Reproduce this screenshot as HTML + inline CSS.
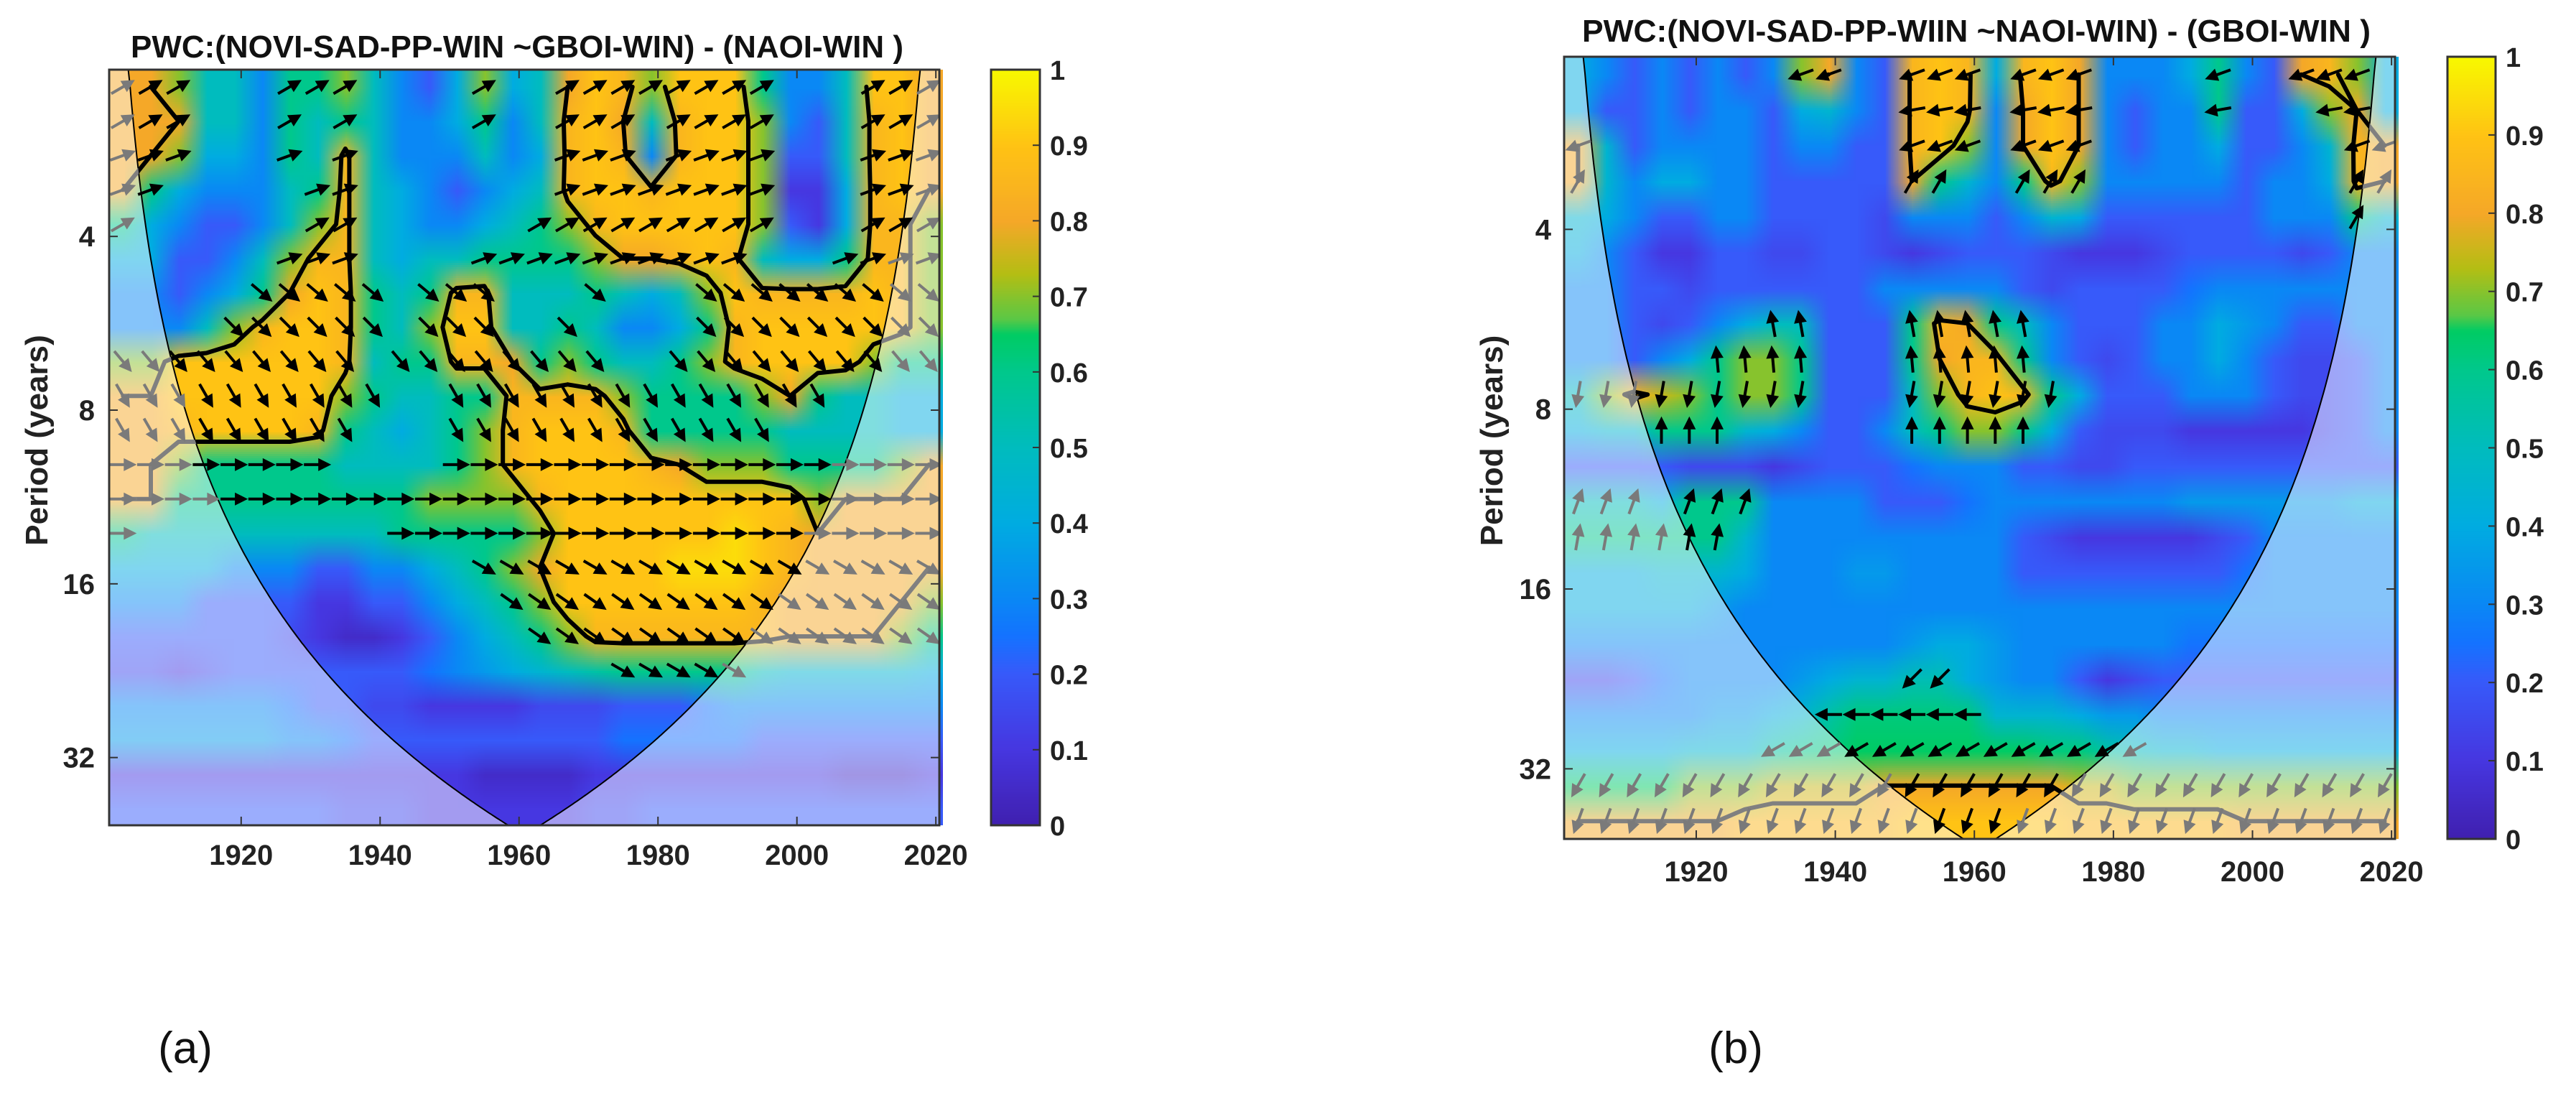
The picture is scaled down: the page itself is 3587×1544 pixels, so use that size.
<!DOCTYPE html>
<html><head><meta charset="utf-8"><title>PWC wavelet coherence</title>
<style>
html,body{margin:0;padding:0;background:#fff;}
#wrap{position:relative;width:3587px;height:1544px;overflow:hidden;background:#fff;}
canvas{position:absolute;}
svg{position:absolute;left:0;top:0;}
text{font-family:"Liberation Sans",Arial,sans-serif;}
</style></head>
<body>
<div id="wrap">
<canvas id="hmA" width="30" height="22"></canvas>
<canvas id="hmB" width="30" height="22"></canvas>
<canvas id="cbA" width="1" height="256"></canvas>
<canvas id="cbB" width="1" height="256"></canvas>
<svg id="svg" width="3587" height="1544" xmlns="http://www.w3.org/2000/svg"></svg>
</div>
<script>
// ---------- data ----------
const yearStart = 1903, yearStep = 4;        // column centres
const periodLog2Min = 1.04, periodLog2Max = 5.39; // axis domain (log2 period)
const xTicks = [1920, 1940, 1960, 1980, 2000, 2020];
const yTicks = [4, 8, 16, 32];
const cbTicks = [0, 0.1, 0.2, 0.3, 0.4, 0.5, 0.6, 0.7, 0.8, 0.9, 1];

const coherenceA = [
[0.8,0.8,0.7,0.5,0.5,0.3,0.6,0.6,0.7,0.5,0.3,0.2,0.4,0.7,0.4,0.5,0.8,0.9,0.85,0.7,0.9,0.9,0.9,0.6,0.3,0.3,0.5,0.9,0.9,0.8],
[0.8,0.8,0.8,0.5,0.5,0.3,0.6,0.5,0.6,0.5,0.3,0.3,0.4,0.6,0.3,0.5,0.85,0.9,0.8,0.5,0.85,0.9,0.9,0.7,0.3,0.2,0.5,0.85,0.9,0.8],
[0.8,0.8,0.7,0.4,0.4,0.3,0.6,0.5,0.85,0.5,0.3,0.3,0.3,0.5,0.3,0.4,0.85,0.9,0.85,0.3,0.85,0.9,0.9,0.7,0.2,0.2,0.5,0.85,0.9,0.8],
[0.8,0.6,0.4,0.3,0.3,0.3,0.5,0.6,0.85,0.5,0.4,0.3,0.2,0.3,0.4,0.5,0.85,0.9,0.9,0.85,0.9,0.9,0.9,0.7,0.1,0.1,0.4,0.85,0.9,0.8],
[0.6,0.4,0.3,0.2,0.2,0.3,0.5,0.7,0.85,0.5,0.4,0.3,0.3,0.4,0.5,0.6,0.7,0.85,0.9,0.9,0.9,0.9,0.9,0.7,0.2,0.1,0.4,0.85,0.85,0.7],
[0.4,0.4,0.2,0.2,0.3,0.5,0.7,0.85,0.85,0.5,0.4,0.5,0.5,0.6,0.6,0.6,0.6,0.7,0.8,0.8,0.85,0.9,0.85,0.5,0.4,0.4,0.6,0.85,0.85,0.7],
[0.3,0.3,0.2,0.3,0.4,0.6,0.8,0.9,0.85,0.6,0.5,0.6,0.85,0.85,0.5,0.5,0.5,0.6,0.5,0.4,0.5,0.7,0.9,0.85,0.85,0.85,0.85,0.9,0.85,0.7],
[0.3,0.3,0.3,0.5,0.7,0.85,0.9,0.9,0.85,0.6,0.5,0.7,0.9,0.9,0.5,0.5,0.6,0.5,0.3,0.3,0.4,0.6,0.85,0.9,0.9,0.9,0.9,0.9,0.85,0.7],
[0.7,0.7,0.9,0.9,0.9,0.9,0.9,0.9,0.85,0.5,0.6,0.6,0.85,0.85,0.8,0.6,0.7,0.6,0.5,0.5,0.6,0.7,0.85,0.9,0.9,0.9,0.9,0.7,0.6,0.6],
[0.8,0.8,0.9,0.9,0.9,0.9,0.9,0.9,0.7,0.6,0.5,0.5,0.6,0.6,0.85,0.85,0.85,0.85,0.7,0.6,0.6,0.6,0.6,0.7,0.8,0.6,0.5,0.5,0.4,0.4],
[0.8,0.8,0.85,0.9,0.9,0.9,0.9,0.85,0.6,0.5,0.4,0.5,0.6,0.7,0.85,0.9,0.9,0.9,0.85,0.6,0.6,0.6,0.6,0.6,0.5,0.5,0.5,0.5,0.4,0.4],
[0.8,0.8,0.7,0.6,0.6,0.6,0.6,0.6,0.5,0.5,0.5,0.5,0.6,0.7,0.85,0.9,0.9,0.9,0.9,0.85,0.8,0.7,0.7,0.7,0.6,0.6,0.6,0.6,0.7,0.8],
[0.8,0.8,0.6,0.6,0.6,0.6,0.6,0.6,0.6,0.6,0.6,0.7,0.7,0.7,0.7,0.85,0.9,0.9,0.9,0.9,0.9,0.9,0.9,0.9,0.9,0.7,0.8,0.8,0.8,0.8],
[0.6,0.5,0.5,0.5,0.5,0.5,0.5,0.5,0.5,0.5,0.6,0.6,0.6,0.6,0.6,0.7,0.9,0.9,0.9,0.9,0.9,0.9,0.95,0.9,0.85,0.8,0.8,0.8,0.8,0.8],
[0.4,0.4,0.4,0.4,0.3,0.3,0.3,0.2,0.2,0.3,0.3,0.4,0.5,0.6,0.7,0.8,0.9,0.9,0.9,0.9,0.95,0.95,0.95,0.9,0.85,0.8,0.8,0.8,0.8,0.8],
[0.3,0.3,0.3,0.2,0.2,0.2,0.2,0.1,0.1,0.2,0.2,0.3,0.4,0.5,0.6,0.7,0.9,0.9,0.9,0.9,0.9,0.9,0.9,0.85,0.8,0.8,0.8,0.8,0.8,0.7],
[0.2,0.2,0.2,0.2,0.2,0.2,0.15,0.1,0.05,0.05,0.1,0.2,0.3,0.4,0.5,0.6,0.7,0.85,0.85,0.85,0.85,0.85,0.85,0.85,0.8,0.8,0.8,0.8,0.7,0.6],
[0.15,0.15,0.1,0.15,0.2,0.2,0.2,0.2,0.2,0.2,0.2,0.25,0.3,0.35,0.4,0.45,0.5,0.55,0.6,0.6,0.6,0.6,0.6,0.5,0.45,0.45,0.45,0.45,0.45,0.4],
[0.3,0.3,0.3,0.3,0.3,0.3,0.25,0.2,0.2,0.15,0.15,0.1,0.1,0.1,0.1,0.15,0.15,0.15,0.2,0.2,0.2,0.25,0.3,0.3,0.3,0.3,0.3,0.3,0.3,0.3],
[0.35,0.35,0.35,0.35,0.35,0.35,0.3,0.3,0.25,0.2,0.2,0.2,0.2,0.2,0.2,0.2,0.2,0.2,0.25,0.25,0.25,0.25,0.25,0.2,0.2,0.2,0.2,0.2,0.2,0.2],
[0.1,0.1,0.1,0.1,0.1,0.1,0.1,0.1,0.1,0.1,0.1,0.1,0.1,0.05,0.05,0.05,0.05,0.1,0.1,0.1,0.1,0.1,0.1,0.1,0.1,0.1,0.05,0.05,0.05,0.1],
[0.2,0.2,0.2,0.2,0.2,0.2,0.2,0.2,0.15,0.15,0.15,0.1,0.1,0.1,0.1,0.1,0.1,0.15,0.15,0.2,0.2,0.2,0.2,0.2,0.2,0.2,0.2,0.2,0.2,0.2]
];
const phaseAngleA = [30,30,20,20,30,20,-40,-45,-50,-60,-60,0,0,0,-30,-35,-35,-30,0,0,0,0];

const coherenceB = [
[0.4,0.3,0.2,0.3,0.2,0.3,0.2,0.3,0.7,0.8,0.3,0.2,0.85,0.9,0.85,0.4,0.85,0.9,0.8,0.3,0.3,0.3,0.4,0.6,0.3,0.2,0.8,0.85,0.7,0.4],
[0.4,0.2,0.2,0.3,0.2,0.3,0.3,0.2,0.4,0.45,0.3,0.2,0.85,0.9,0.85,0.3,0.8,0.9,0.8,0.3,0.2,0.3,0.3,0.6,0.2,0.2,0.4,0.7,0.8,0.4],
[0.8,0.45,0.2,0.3,0.3,0.3,0.3,0.2,0.3,0.3,0.2,0.2,0.85,0.9,0.7,0.3,0.8,0.9,0.8,0.3,0.2,0.3,0.3,0.4,0.2,0.2,0.3,0.45,0.85,0.8],
[0.8,0.45,0.3,0.4,0.4,0.3,0.3,0.2,0.2,0.2,0.2,0.2,0.8,0.6,0.45,0.3,0.6,0.85,0.7,0.3,0.3,0.3,0.3,0.3,0.2,0.3,0.3,0.4,0.85,0.8],
[0.45,0.4,0.3,0.2,0.2,0.3,0.3,0.2,0.2,0.2,0.2,0.15,0.3,0.3,0.3,0.2,0.3,0.45,0.4,0.2,0.2,0.2,0.2,0.2,0.2,0.3,0.3,0.3,0.6,0.45],
[0.4,0.3,0.2,0.1,0.1,0.2,0.2,0.15,0.15,0.2,0.2,0.15,0.1,0.15,0.2,0.2,0.2,0.15,0.1,0.1,0.1,0.15,0.2,0.2,0.2,0.2,0.15,0.2,0.3,0.3],
[0.3,0.3,0.2,0.2,0.15,0.2,0.2,0.2,0.2,0.2,0.2,0.3,0.3,0.3,0.3,0.3,0.2,0.15,0.2,0.2,0.2,0.2,0.25,0.3,0.3,0.3,0.3,0.3,0.3,0.3],
[0.3,0.3,0.2,0.15,0.2,0.3,0.4,0.5,0.5,0.2,0.2,0.2,0.6,0.85,0.8,0.6,0.5,0.3,0.2,0.2,0.2,0.3,0.3,0.4,0.35,0.3,0.2,0.2,0.3,0.3],
[0.3,0.3,0.2,0.3,0.4,0.6,0.7,0.7,0.6,0.2,0.2,0.2,0.6,0.8,0.85,0.85,0.6,0.3,0.2,0.15,0.2,0.3,0.3,0.4,0.3,0.2,0.15,0.15,0.2,0.3],
[0.5,0.7,0.85,0.75,0.7,0.6,0.7,0.7,0.6,0.2,0.2,0.2,0.5,0.7,0.85,0.9,0.85,0.6,0.4,0.2,0.2,0.2,0.3,0.3,0.3,0.2,0.15,0.15,0.2,0.3],
[0.4,0.45,0.45,0.6,0.6,0.6,0.45,0.4,0.3,0.2,0.2,0.3,0.5,0.6,0.7,0.7,0.6,0.4,0.2,0.15,0.15,0.15,0.1,0.1,0.1,0.1,0.1,0.15,0.2,0.3],
[0.2,0.2,0.2,0.2,0.15,0.15,0.15,0.1,0.15,0.2,0.2,0.2,0.25,0.3,0.3,0.3,0.2,0.2,0.15,0.15,0.2,0.2,0.2,0.2,0.2,0.2,0.2,0.2,0.2,0.2],
[0.5,0.5,0.5,0.4,0.6,0.6,0.6,0.3,0.3,0.3,0.3,0.2,0.2,0.2,0.25,0.3,0.3,0.3,0.3,0.3,0.3,0.3,0.35,0.35,0.35,0.35,0.35,0.35,0.4,0.4],
[0.6,0.6,0.6,0.6,0.6,0.6,0.45,0.3,0.3,0.3,0.3,0.3,0.3,0.3,0.3,0.3,0.2,0.15,0.1,0.1,0.1,0.1,0.1,0.15,0.2,0.3,0.3,0.3,0.3,0.3],
[0.4,0.4,0.4,0.45,0.45,0.45,0.4,0.3,0.3,0.3,0.35,0.35,0.3,0.3,0.3,0.3,0.2,0.2,0.2,0.2,0.2,0.2,0.2,0.2,0.25,0.3,0.3,0.3,0.3,0.3],
[0.4,0.4,0.4,0.4,0.4,0.35,0.3,0.3,0.3,0.3,0.3,0.3,0.3,0.3,0.3,0.3,0.3,0.3,0.3,0.3,0.3,0.3,0.3,0.3,0.3,0.3,0.3,0.3,0.3,0.3],
[0.3,0.3,0.3,0.3,0.3,0.3,0.3,0.3,0.3,0.3,0.3,0.3,0.35,0.4,0.4,0.35,0.3,0.3,0.3,0.3,0.3,0.3,0.25,0.25,0.25,0.25,0.25,0.25,0.25,0.25],
[0.15,0.15,0.2,0.25,0.3,0.3,0.3,0.3,0.35,0.4,0.45,0.45,0.52,0.52,0.4,0.35,0.3,0.3,0.2,0.1,0.15,0.2,0.2,0.2,0.2,0.2,0.2,0.2,0.2,0.2],
[0.3,0.3,0.3,0.3,0.3,0.35,0.35,0.4,0.45,0.55,0.62,0.62,0.62,0.62,0.62,0.45,0.45,0.45,0.4,0.35,0.35,0.3,0.3,0.3,0.3,0.3,0.3,0.3,0.3,0.3],
[0.4,0.4,0.4,0.4,0.45,0.45,0.45,0.55,0.6,0.62,0.65,0.65,0.65,0.65,0.65,0.65,0.65,0.62,0.62,0.55,0.5,0.45,0.45,0.4,0.4,0.4,0.4,0.4,0.4,0.4],
[0.65,0.65,0.65,0.65,0.7,0.7,0.7,0.75,0.75,0.75,0.75,0.8,0.8,0.8,0.8,0.8,0.8,0.8,0.75,0.75,0.7,0.7,0.7,0.7,0.7,0.7,0.7,0.7,0.7,0.7],
[0.8,0.8,0.8,0.8,0.8,0.8,0.85,0.85,0.85,0.85,0.85,0.85,0.9,0.9,0.9,0.9,0.9,0.9,0.85,0.85,0.85,0.85,0.85,0.85,0.8,0.8,0.8,0.8,0.8,0.8]
];
const phaseAngleB = [200,190,200,60,60,90,90,100,95,260,90,90,70,80,90,90,90,225,180,210,240,250];

// ---------- helpers ----------
const NS = "http://www.w3.org/2000/svg";
const svg = document.getElementById('svg');
const cmap = [[0,64,32,176],[0.1,70,55,225],[0.2,55,90,250],[0.25,20,115,255],[0.3,10,136,245],[0.4,0,172,225],[0.5,0,188,190],[0.6,0,200,140],[0.65,0,204,100],[0.67,90,200,70],[0.73,180,190,20],[0.8,245,168,40],[0.9,255,195,20],[1,248,248,0]];
function colorOf(v){v=Math.max(0,Math.min(1,v));for(let i=1;i<cmap.length;i++){if(v<=cmap[i][0]){const a=cmap[i-1],b=cmap[i],t=(v-a[0])/(b[0]-a[0]);return [0,1,2].map(k=>Math.round(a[k+1]+(b[k+1]-a[k+1])*t));}}return [248,248,0];}
function el(tag,attrs,parent){const e=document.createElementNS(NS,tag);for(const k in attrs)e.setAttribute(k,attrs[k]);(parent||svg).appendChild(e);return e;}
function txt(s,attrs,parent){const e=el('text',attrs,parent);e.textContent=s;return e;}

function panel(cfg){
  const {id,x0,x1,y0,y1,data,ang,thr,title,titleX,titleY,titleW,cbx0,cbx1,cbLabX,ytLabX,xtLabY,ylabX,letter,letterX,canvas,cbCanvas} = cfg;
  const yrMin=1901, yrMax=2020.5;
  const xS = yr => x0 + (yr-yrMin)/(yrMax-yrMin)*(x1-x0);
  const yS = lp => y0 + (lp-periodLog2Min)/(periodLog2Max-periodLog2Min)*(y1-y0);
  const nR=data.length, nC=data[0].length;
  const rowStep=(periodLog2Max-periodLog2Min)/nR;
  const cx = c => xS(yearStart + c*yearStep);
  const cy = r => yS(periodLog2Min + (r+0.5)*rowStep);
  const cv=document.getElementById(canvas);
  const ctx=cv.getContext('2d');const img=ctx.createImageData(nC,nR);
  for(let r=0;r<nR;r++)for(let c=0;c<nC;c++){const col=colorOf(data[r][c]);const i=(r*nC+c)*4;img.data[i]=col[0];img.data[i+1]=col[1];img.data[i+2]=col[2];img.data[i+3]=255;}
  ctx.putImageData(img,0,0);
  const cw=cx(1)-cx(0), ch=cy(1)-cy(0);
  cv.style.left=(cx(0)-cw/2)+'px';cv.style.top=(cy(0)-ch/2)+'px';cv.style.width=(cw*nC)+'px';cv.style.height=(ch*nR)+'px';
  const g=el('g',{});
  const defs=el('defs',{},g);
  const cp=el('clipPath',{id:id+'clip'},defs);el('rect',{x:x0,y:y0,width:x1-x0,height:y1-y0},cp);
  const pts=[];
  for(let t=yrMin;t<=yrMax+0.001;t+=0.25){const p=0.73*Math.max(0.01,Math.min(t-yrMin,yrMax-t));let y=yS(Math.log2(p));y=Math.max(y0,Math.min(y1,y));pts.push([xS(t),y]);}
  const curve=pts.map((p,i)=>(i?'L':'M')+p[0].toFixed(1)+','+p[1].toFixed(1)).join('');
  const outPath=curve+`L${x1},${y1}L${x0},${y1}Z`;
  const inPath=curve+`L${x1},${y0}L${x0},${y0}Z`;
  const cpOut=el('clipPath',{id:id+'out'},defs);el('path',{d:outPath},cpOut);
  const cpIn=el('clipPath',{id:id+'in'},defs);el('path',{d:inPath},cpIn);
  const wash=el('path',{d:outPath,fill:'#ffffff','fill-opacity':'0.5'},g);
  
  
  const coneLine=el('path',{d:curve,fill:'none',stroke:'#000','stroke-width':'2'},g);
  
  
  const segs=[];const L=0.8;
  for(let r=0;r<nR-1;r++)for(let c=0;c<nC-1;c++){
    const v=[data[r][c],data[r][c+1],data[r+1][c+1],data[r+1][c]];
    const P=[[cx(c),cy(r)],[cx(c+1),cy(r)],[cx(c+1),cy(r+1)],[cx(c),cy(r+1)]];
    const hits=[];
    for(let e=0;e<4;e++){const a=e,b=(e+1)%4;if((v[a]>=L)!==(v[b]>=L)){const t=(L-v[a])/(v[b]-v[a]);hits.push([P[a][0]+(P[b][0]-P[a][0])*t,P[a][1]+(P[b][1]-P[a][1])*t]);}}
    for(let k=0;k+1<hits.length;k+=2)segs.push([hits[k],hits[k+1]]);
  }
  const d=segs.map(s=>`M${s[0][0].toFixed(1)},${s[0][1].toFixed(1)}L${s[1][0].toFixed(1)},${s[1][1].toFixed(1)}`).join('');
  const cIn=el('path',{d:d,fill:'none',stroke:'#000','stroke-width':'6','stroke-linecap':'round','clip-path':`url(#${id}in)`},g);
  
  
  const cOut=el('path',{d:d,fill:'none',stroke:'#808080','stroke-width':'6','stroke-linecap':'round','clip-path':`url(#${id}out)`},g);
  
  
  const ga=el('g',{'clip-path':`url(#${id}clip)`},g);
  
  
  for(let r=0;r<nR;r++)for(let c=0;c<nC;c++){
    if(data[r][c]<thr)continue;
    const X=cx(c),Y=cy(r),a=ang[r]*Math.PI/180,dx=Math.cos(a),dy=-Math.sin(a);
    const t=yearStart+c*yearStep, p=Math.pow(2,periodLog2Min+(r+0.5)*rowStep);
    const inside=p<0.73*Math.min(t-yrMin,yrMax-t);
    const col=inside?'#000':'#7a7a7a';
    const len=38,hx=X+dx*len/2,hy=Y+dy*len/2,tx=X-dx*len/2,ty=Y-dy*len/2;
    const ar=el('path',{d:`M${tx.toFixed(1)},${ty.toFixed(1)}L${(hx-dx*10).toFixed(1)},${(hy-dy*10).toFixed(1)}`,stroke:col,'stroke-width':'4',fill:'none'},ga);
    
    
    const nx=-dy,ny=dx;
    const hd=el('path',{d:`M${hx.toFixed(1)},${hy.toFixed(1)}L${(hx-dx*18+nx*9).toFixed(1)},${(hy-dy*18+ny*9).toFixed(1)}L${(hx-dx*18-nx*9).toFixed(1)},${(hy-dy*18-ny*9).toFixed(1)}Z`,fill:col},ga);
    
    
  }
  const fr=el('rect',{x:x0,y:y0,width:x1-x0,height:y1-y0,fill:'none',stroke:'#333','stroke-width':'3'},g);
  
  
  xTicks.forEach(v=>{const X=xS(v);
    el('line',{x1:X,x2:X,y1:y1,y2:y1-12,stroke:'#333','stroke-width':'2'},g);
    el('line',{x1:X,x2:X,y1:y0,y2:y0+12,stroke:'#333','stroke-width':'2'},g);
    const t=txt(String(v),{x:X,y:xtLabY,'text-anchor':'middle','font-size':'40','font-weight':'bold',fill:'#222'},g);
    
    });
  yTicks.forEach(v=>{const Y=yS(Math.log2(v));
    el('line',{x1:x0,x2:x0+12,y1:Y,y2:Y,stroke:'#333','stroke-width':'2'},g);
    el('line',{x1:x1,x2:x1-12,y1:Y,y2:Y,stroke:'#333','stroke-width':'2'},g);
    const t=txt(String(v),{x:ytLabX,y:Y+14,'text-anchor':'end','font-size':'40','font-weight':'bold',fill:'#222'},g);
    
    });
  const yl=txt('Period (years)',{x:ylabX,y:(y0+y1)/2-10,transform:`rotate(-90 ${ylabX} ${(y0+y1)/2-10})`,'text-anchor':'middle','font-size':'44','font-weight':'bold',fill:'#222'},g);
  
  
  const tt=txt(title,{x:titleX,y:titleY,'font-size':'44','font-weight':'bold',fill:'#111',textLength:titleW,lengthAdjust:'spacingAndGlyphs'},g);
  
  
  const lt=txt(letter,{x:letterX,y:1480,'text-anchor':'middle','font-size':'62',fill:'#111'},g);
  
  
  const cb=document.getElementById(cbCanvas);const cctx=cb.getContext('2d');
  for(let i=0;i<256;i++){const col=colorOf(1-i/255);cctx.fillStyle=`rgb(${col[0]},${col[1]},${col[2]})`;cctx.fillRect(0,i,1,1);}
  cb.style.left=cbx0+'px';cb.style.top=y0+'px';cb.style.width=(cbx1-cbx0)+'px';cb.style.height=(y1-y0)+'px';
  const cbf=el('rect',{x:cbx0,y:y0,width:cbx1-cbx0,height:y1-y0,fill:'none',stroke:'#333','stroke-width':'3'},g);
  
  
  cbTicks.forEach(v=>{const Y=y1-v*(y1-y0);
    el('line',{x1:cbx1-10,x2:cbx1,y1:Y,y2:Y,stroke:'#333','stroke-width':'2'},g);
    const t=txt(String(v),{x:cbLabX,y:Y+14,'font-size':'38','font-weight':'bold',fill:'#222'},g);
    
    });
}

panel({id:'pa',x0:152,x1:1308,y0:97,y1:1149,data:coherenceA,ang:phaseAngleA,thr:0.6,
  title:'PWC:(NOVI-SAD-PP-WIN ~GBOI-WIN) - (NAOI-WIN )',titleX:182,titleY:80,titleW:1076,
  cbx0:1380,cbx1:1448,cbLabX:1462,ytLabX:132,xtLabY:1204,ylabX:66,letter:'(a)',letterX:258,canvas:'hmA',cbCanvas:'cbA'});
panel({id:'pb',x0:2178,x1:3335,y0:79,y1:1168,data:coherenceB,ang:phaseAngleB,thr:0.5,
  title:'PWC:(NOVI-SAD-PP-WIIN ~NAOI-WIN) - (GBOI-WIN )',titleX:2203,titleY:58,titleW:1098,
  cbx0:3408,cbx1:3475,cbLabX:3489,ytLabX:2160,xtLabY:1227,ylabX:2092,letter:'(b)',letterX:2417,canvas:'hmB',cbCanvas:'cbB'});
</script>
</body></html>
